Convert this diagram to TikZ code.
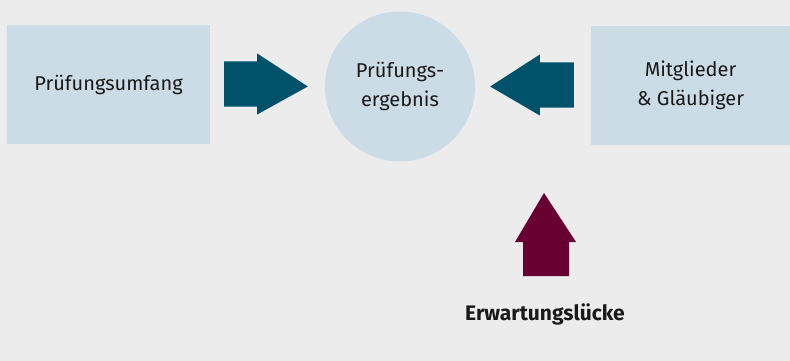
\documentclass[tikz,border=0pt]{standalone}
\usepackage{fontspec}
\setmainfont{Fira Sans}
\usepackage{xcolor}
\usetikzlibrary{calc}

\definecolor{bgGrey}{HTML}{ECECEC}
\definecolor{boxBlue}{HTML}{CCDCE6}
\definecolor{arrowTeal}{HTML}{00526B}
\definecolor{gapRed}{HTML}{680032}

\begin{document}
\begin{tikzpicture}[x=1pt, y=-1pt, every node/.style={font=\fontsize{20}{28.5}\selectfont, text=black!90},
  boxnode/.style={fill=boxBlue, align=center, inner sep=0pt}]
  \fill[bgGrey] (0,0) rectangle (790,361);
  \useasboundingbox (0,0) rectangle (790,361);
  \node[boxnode, minimum width=203pt, minimum height=119pt] (scope) at (108.5,84.5) {Prüfungsumfang};
  \node[boxnode, circle, minimum size=150pt] (result) at (400,86.5) {Prüfungs-\\ergebnis};
  \node[boxnode, minimum width=199pt, minimum height=119pt] (members) at (690.5,85.5) {Mitglieder\\\& Gläubiger};
  \node[font=\fontsize{21}{24}\selectfont\bfseries] (gap) at (545,314) {Erwartungslücke};
  % block arrows
  \fill[arrowTeal] ($(scope.east)+(14,-23)$) -- ++(33,0) -- ++(0,-8) -- ($(result.west)+(-17,0)$)
    -- ($(scope.east)+(47,30)$) -- ++(0,-8) -- ++(-33,0) -- cycle;
  \fill[arrowTeal] ($(members.west)+(-17,-23)$) -- ++(-34,0) -- ++(0,-8) -- ($(result.east)+(15,0)$)
    -- ($(members.west)+(-51,30)$) -- ++(0,-8) -- ++(34,0) -- cycle;
  \fill[gapRed] ($(gap.center)+(-22,-38)$) -- ++(0,-34) -- ++(-8,0) -- ($(gap.center)+(-1,-121)$)
    -- ($(gap.center)+(31,-72)$) -- ++(-7,0) -- ++(0,34) -- cycle;
\end{tikzpicture}
\end{document}
